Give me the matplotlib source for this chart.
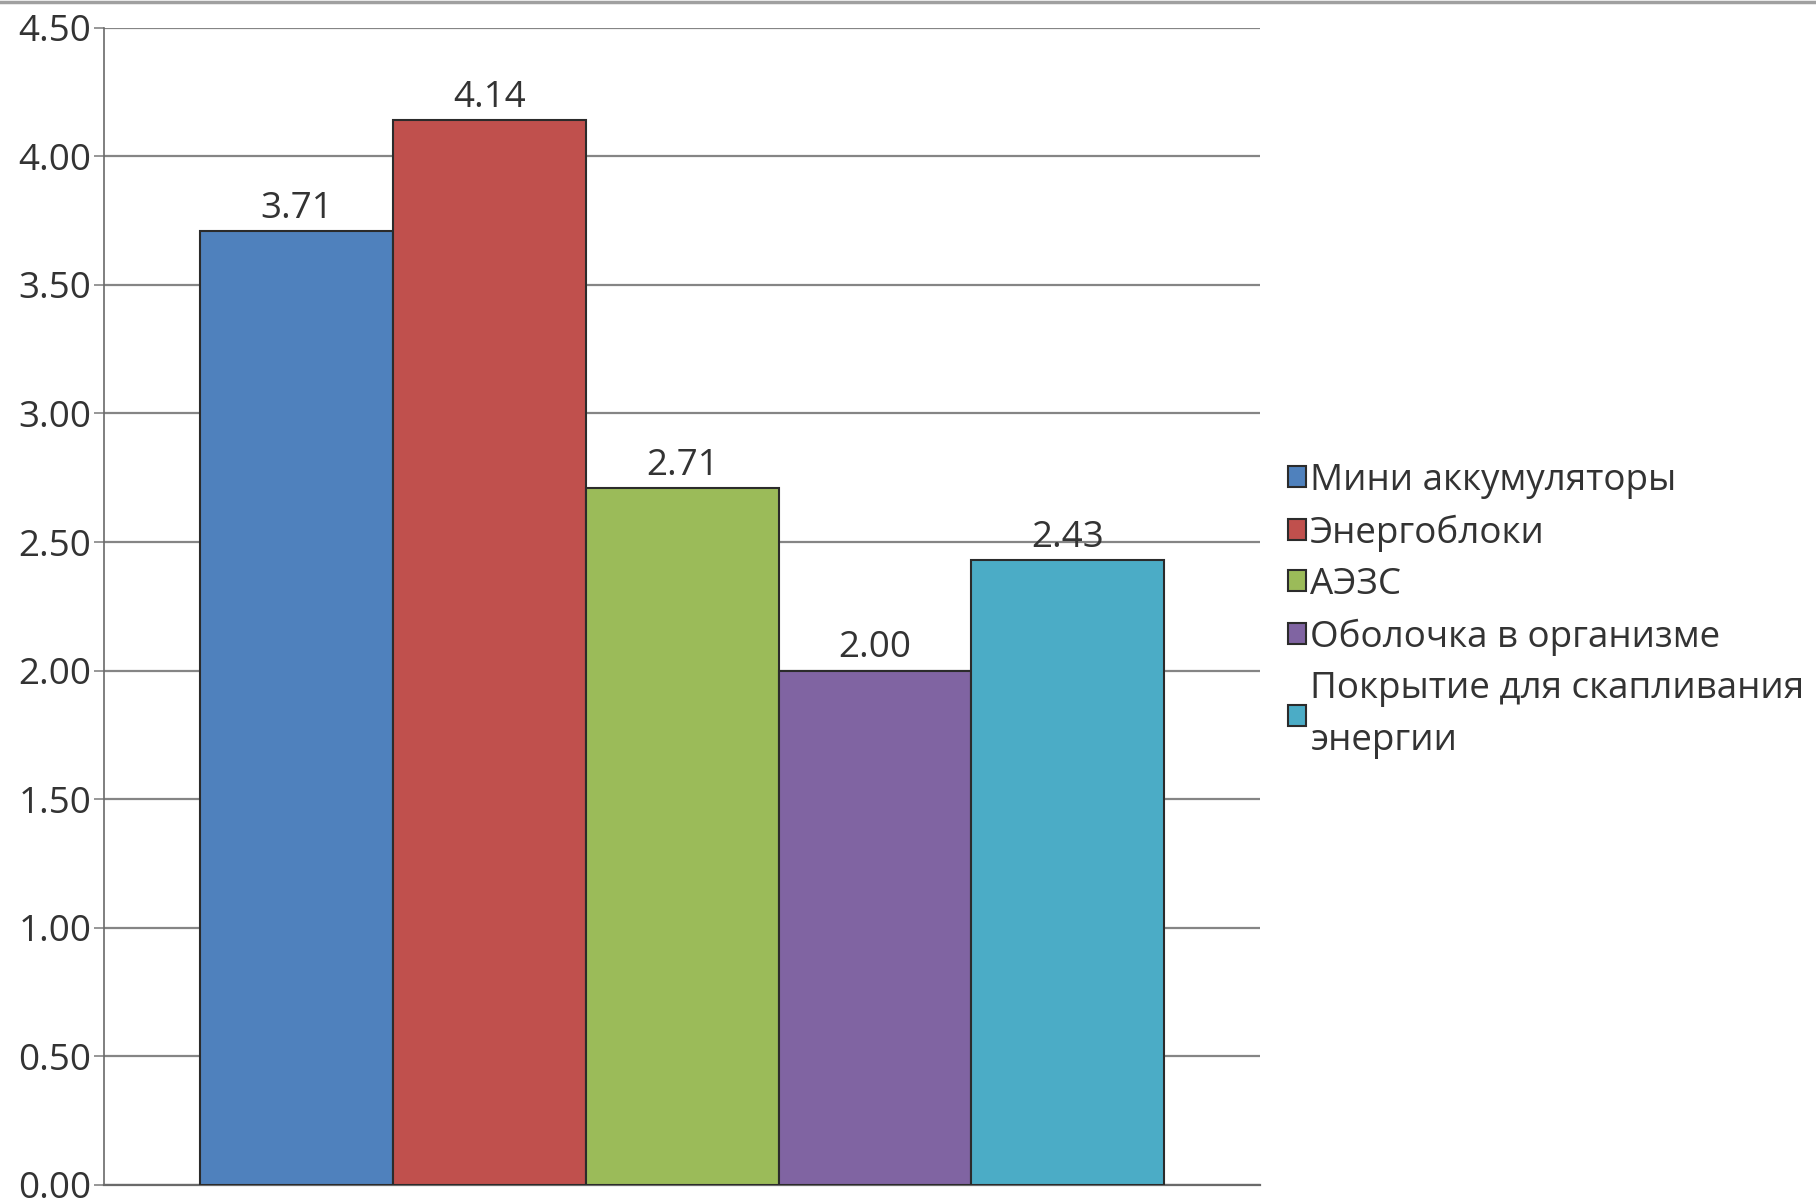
import matplotlib.pyplot as plt
from matplotlib.lines import Line2D

categories = ['Мини аккумуляторы', 'Энергоблоки', 'АЭЗС',
              'Оболочка в организме', 'Покрытие для скапливания\nэнергии']
values = [3.71, 4.14, 2.71, 2.00, 2.43]
colors = ['#4F81BD', '#C0504D', '#9BBB59', '#8064A2', '#4BACC6']
yticks = [0.0, 0.5, 1.0, 1.5, 2.0, 2.5, 3.0, 3.5, 4.0, 4.5]

plt.rcParams['font.family'] = ['Open Sans', 'DejaVu Sans']
txt = '#333333'
fs = 26.5

fig = plt.figure(figsize=(18.16, 12.03), dpi=100)
ax = fig.add_axes([0.0573, 0.015, 0.6367, 0.962])

pos = list(range(len(values)))
bars = ax.bar(pos, values, width=1.0, color=colors, edgecolor='#2b2b2b',
              linewidth=1.5, label=categories, zorder=3)
ax.bar_label(bars, labels=['%.2f' % v for v in values], padding=3,
             fontsize=fs, color=txt)

ax.set_xlim(-1.0, 5.0)
ax.set_ylim(0, 4.5)
ax.set_yticks(yticks)
ax.set_yticklabels(['%.2f' % t for t in yticks], fontsize=fs, color=txt)
ax.set_xticks([])
ax.yaxis.grid(True, color='#858585', linewidth=1.6)
ax.set_axisbelow(True)
ax.tick_params(axis='y', length=7, width=1.2, color='#858585', pad=2)

for s in ['top', 'right']:
    ax.spines[s].set_visible(False)
ax.spines['left'].set_color('#6a6a6a')
ax.spines['left'].set_linewidth(1.2)
ax.spines['bottom'].set_color('#6a6a6a')
ax.spines['bottom'].set_linewidth(1.6)

leg = fig.legend(handles=bars.patches, labels=categories, loc='center left',
                 bbox_to_anchor=(0.709, 0.492), frameon=False, fontsize=fs,
                 handlelength=0.5, handleheight=0.5, handletextpad=0.12,
                 labelspacing=0.42, borderpad=0, borderaxespad=0, labelcolor=txt)
leg.get_texts()[-1].set_linespacing(1.6)

# thin gray border line at the top of the image
fig.add_artist(Line2D([0, 1], [0.998, 0.998], color='#a0a0a0', linewidth=2.5,
                      transform=fig.transFigure))

fig.savefig('out.png', dpi=100)
